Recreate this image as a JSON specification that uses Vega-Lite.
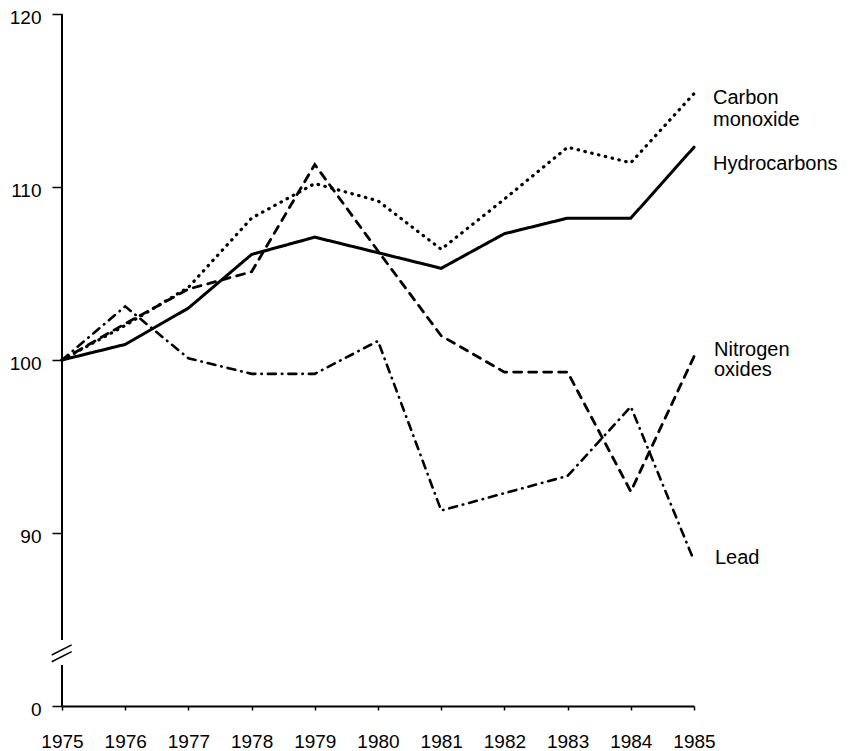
{
  "$schema": "https://vega.github.io/schema/vega-lite/v6.json",
  "width": 632,
  "height": 692,
  "autosize": "none",
  "padding": {"left": 62, "top": 14, "right": 159, "bottom": 45},
  "background": "white",
  "config": {
    "view": {"stroke": null},
    "font": "Liberation Sans",
    "axis": {"grid": false, "labelColor": "black", "tickColor": "black", "domainColor": "black", "labelFont": "Liberation Sans", "labelFontSize": 19}
  },
  "datasets": {
    "emissions": [
      {"year": 1975, "series": "Hydrocarbons", "value": 100},
      {"year": 1976, "series": "Hydrocarbons", "value": 100.9},
      {"year": 1977, "series": "Hydrocarbons", "value": 103.0},
      {"year": 1978, "series": "Hydrocarbons", "value": 106.1},
      {"year": 1979, "series": "Hydrocarbons", "value": 107.1},
      {"year": 1980, "series": "Hydrocarbons", "value": 106.2},
      {"year": 1981, "series": "Hydrocarbons", "value": 105.3},
      {"year": 1982, "series": "Hydrocarbons", "value": 107.3},
      {"year": 1983, "series": "Hydrocarbons", "value": 108.2},
      {"year": 1984, "series": "Hydrocarbons", "value": 108.2},
      {"year": 1985, "series": "Hydrocarbons", "value": 112.3},
      {"year": 1975, "series": "Carbon monoxide", "value": 100},
      {"year": 1976, "series": "Carbon monoxide", "value": 102.0},
      {"year": 1977, "series": "Carbon monoxide", "value": 104.2},
      {"year": 1978, "series": "Carbon monoxide", "value": 108.2},
      {"year": 1979, "series": "Carbon monoxide", "value": 110.2},
      {"year": 1980, "series": "Carbon monoxide", "value": 109.2},
      {"year": 1981, "series": "Carbon monoxide", "value": 106.4},
      {"year": 1982, "series": "Carbon monoxide", "value": 109.3},
      {"year": 1983, "series": "Carbon monoxide", "value": 112.3},
      {"year": 1984, "series": "Carbon monoxide", "value": 111.4},
      {"year": 1985, "series": "Carbon monoxide", "value": 115.4},
      {"year": 1975, "series": "Nitrogen oxides", "value": 100},
      {"year": 1976, "series": "Nitrogen oxides", "value": 102.1},
      {"year": 1977, "series": "Nitrogen oxides", "value": 104.1},
      {"year": 1978, "series": "Nitrogen oxides", "value": 105.1},
      {"year": 1979, "series": "Nitrogen oxides", "value": 111.3},
      {"year": 1980, "series": "Nitrogen oxides", "value": 106.3},
      {"year": 1981, "series": "Nitrogen oxides", "value": 101.4},
      {"year": 1982, "series": "Nitrogen oxides", "value": 99.3},
      {"year": 1983, "series": "Nitrogen oxides", "value": 99.3},
      {"year": 1984, "series": "Nitrogen oxides", "value": 92.4},
      {"year": 1985, "series": "Nitrogen oxides", "value": 100.2},
      {"year": 1975, "series": "Lead", "value": 100},
      {"year": 1976, "series": "Lead", "value": 103.1},
      {"year": 1977, "series": "Lead", "value": 100.1},
      {"year": 1978, "series": "Lead", "value": 99.2},
      {"year": 1979, "series": "Lead", "value": 99.2},
      {"year": 1980, "series": "Lead", "value": 101.1},
      {"year": 1981, "series": "Lead", "value": 91.3},
      {"year": 1982, "series": "Lead", "value": 92.3},
      {"year": 1983, "series": "Lead", "value": 93.3},
      {"year": 1984, "series": "Lead", "value": 97.3},
      {"year": 1985, "series": "Lead", "value": 88.4}
    ]
  },
  "layer": [
    {
      "data": {"name": "emissions"},
      "mark": {"type": "line", "color": "black", "strokeCap": "round", "strokeJoin": "miter"},
      "encoding": {
        "x": {
          "field": "year", "type": "quantitative",
          "scale": {"domain": [1975, 1985], "nice": false, "zero": false},
          "axis": {"title": null, "values": [1975, 1976, 1977, 1978, 1979, 1980, 1981, 1982, 1983, 1984, 1985], "format": "d", "tickSize": 4, "tickWidth": 1.5, "domainWidth": 2, "labelPadding": 22, "labelFlush": false, "labelOverlap": false}
        },
        "y": {
          "field": "value", "type": "quantitative",
          "scale": {"domain": [80, 120], "nice": false, "zero": false},
          "axis": {"title": null, "values": [80, 90, 100, 110, 120], "labelExpr": "datum.value == 80 ? '0' : datum.label", "domain": false, "tickSize": 10, "tickWidth": 1.5, "labelPadding": 11, "labelOffset": 3}
        },
        "strokeDash": {
          "field": "series", "type": "nominal", "legend": null,
          "scale": {"domain": ["Carbon monoxide", "Hydrocarbons", "Nitrogen oxides", "Lead"], "range": [[0.5, 6.5], [1, 0], [8, 7], [8, 6, 0.5, 6]]}
        },
        "strokeWidth": {
          "field": "series", "type": "nominal", "legend": null,
          "scale": {"domain": ["Carbon monoxide", "Hydrocarbons", "Nitrogen oxides", "Lead"], "range": [3.2, 2.6, 2.5, 2.5]}
        }
      }
    },
    {
      "data": {"values": [{}]},
      "mark": {"type": "rule", "color": "black", "strokeWidth": 2},
      "encoding": {
        "x": {"datum": 1975, "type": "quantitative"},
        "y": {"datum": 80, "type": "quantitative"},
        "y2": {"datum": 82.37}
      }
    },
    {
      "data": {"values": [{}]},
      "mark": {"type": "rule", "color": "black", "strokeWidth": 2},
      "encoding": {
        "x": {"datum": 1975, "type": "quantitative"},
        "y": {"datum": 83.82, "type": "quantitative"},
        "y2": {"datum": 120}
      }
    },
    {
      "data": {"values": [{}]},
      "mark": {"type": "rule", "color": "black", "strokeWidth": 1.5},
      "encoding": {
        "x": {"datum": 1974.837, "type": "quantitative"},
        "x2": {"datum": 1975.153},
        "y": {"datum": 82.95, "type": "quantitative"},
        "y2": {"datum": 83.53}
      }
    },
    {
      "data": {"values": [{}]},
      "mark": {"type": "rule", "color": "black", "strokeWidth": 1.5},
      "encoding": {
        "x": {"datum": 1974.837, "type": "quantitative"},
        "x2": {"datum": 1975.153},
        "y": {"datum": 82.56, "type": "quantitative"},
        "y2": {"datum": 83.14}
      }
    },
    {
      "data": {"name": "emissions"},
      "transform": [{"filter": "datum.series == 'Carbon monoxide' && datum.year == 1985"}],
      "mark": {"type": "text", "align": "left", "baseline": "middle", "dx": 19, "dy": 4, "fontSize": 20, "color": "black", "text": "Carbon"},
      "encoding": {"x": {"field": "year", "type": "quantitative"}, "y": {"field": "value", "type": "quantitative"}}
    },
    {
      "data": {"name": "emissions"},
      "transform": [{"filter": "datum.series == 'Carbon monoxide' && datum.year == 1985"}],
      "mark": {"type": "text", "align": "left", "baseline": "middle", "dx": 19, "dy": 26, "fontSize": 20, "color": "black", "text": "monoxide"},
      "encoding": {"x": {"field": "year", "type": "quantitative"}, "y": {"field": "value", "type": "quantitative"}}
    },
    {
      "data": {"name": "emissions"},
      "transform": [{"filter": "datum.series == 'Hydrocarbons' && datum.year == 1985"}],
      "mark": {"type": "text", "align": "left", "baseline": "middle", "dx": 19, "dy": 17, "fontSize": 20, "color": "black", "text": "Hydrocarbons"},
      "encoding": {"x": {"field": "year", "type": "quantitative"}, "y": {"field": "value", "type": "quantitative"}}
    },
    {
      "data": {"name": "emissions"},
      "transform": [{"filter": "datum.series == 'Nitrogen oxides' && datum.year == 1985"}],
      "mark": {"type": "text", "align": "left", "baseline": "middle", "dx": 20, "dy": -7, "fontSize": 20, "color": "black", "text": "Nitrogen"},
      "encoding": {"x": {"field": "year", "type": "quantitative"}, "y": {"field": "value", "type": "quantitative"}}
    },
    {
      "data": {"name": "emissions"},
      "transform": [{"filter": "datum.series == 'Nitrogen oxides' && datum.year == 1985"}],
      "mark": {"type": "text", "align": "left", "baseline": "middle", "dx": 20, "dy": 13, "fontSize": 20, "color": "black", "text": "oxides"},
      "encoding": {"x": {"field": "year", "type": "quantitative"}, "y": {"field": "value", "type": "quantitative"}}
    },
    {
      "data": {"name": "emissions"},
      "transform": [{"filter": "datum.series == 'Lead' && datum.year == 1985"}],
      "mark": {"type": "text", "align": "left", "baseline": "middle", "dx": 21, "dy": -3, "fontSize": 20, "color": "black", "text": "Lead"},
      "encoding": {"x": {"field": "year", "type": "quantitative"}, "y": {"field": "value", "type": "quantitative"}}
    }
  ]
}
